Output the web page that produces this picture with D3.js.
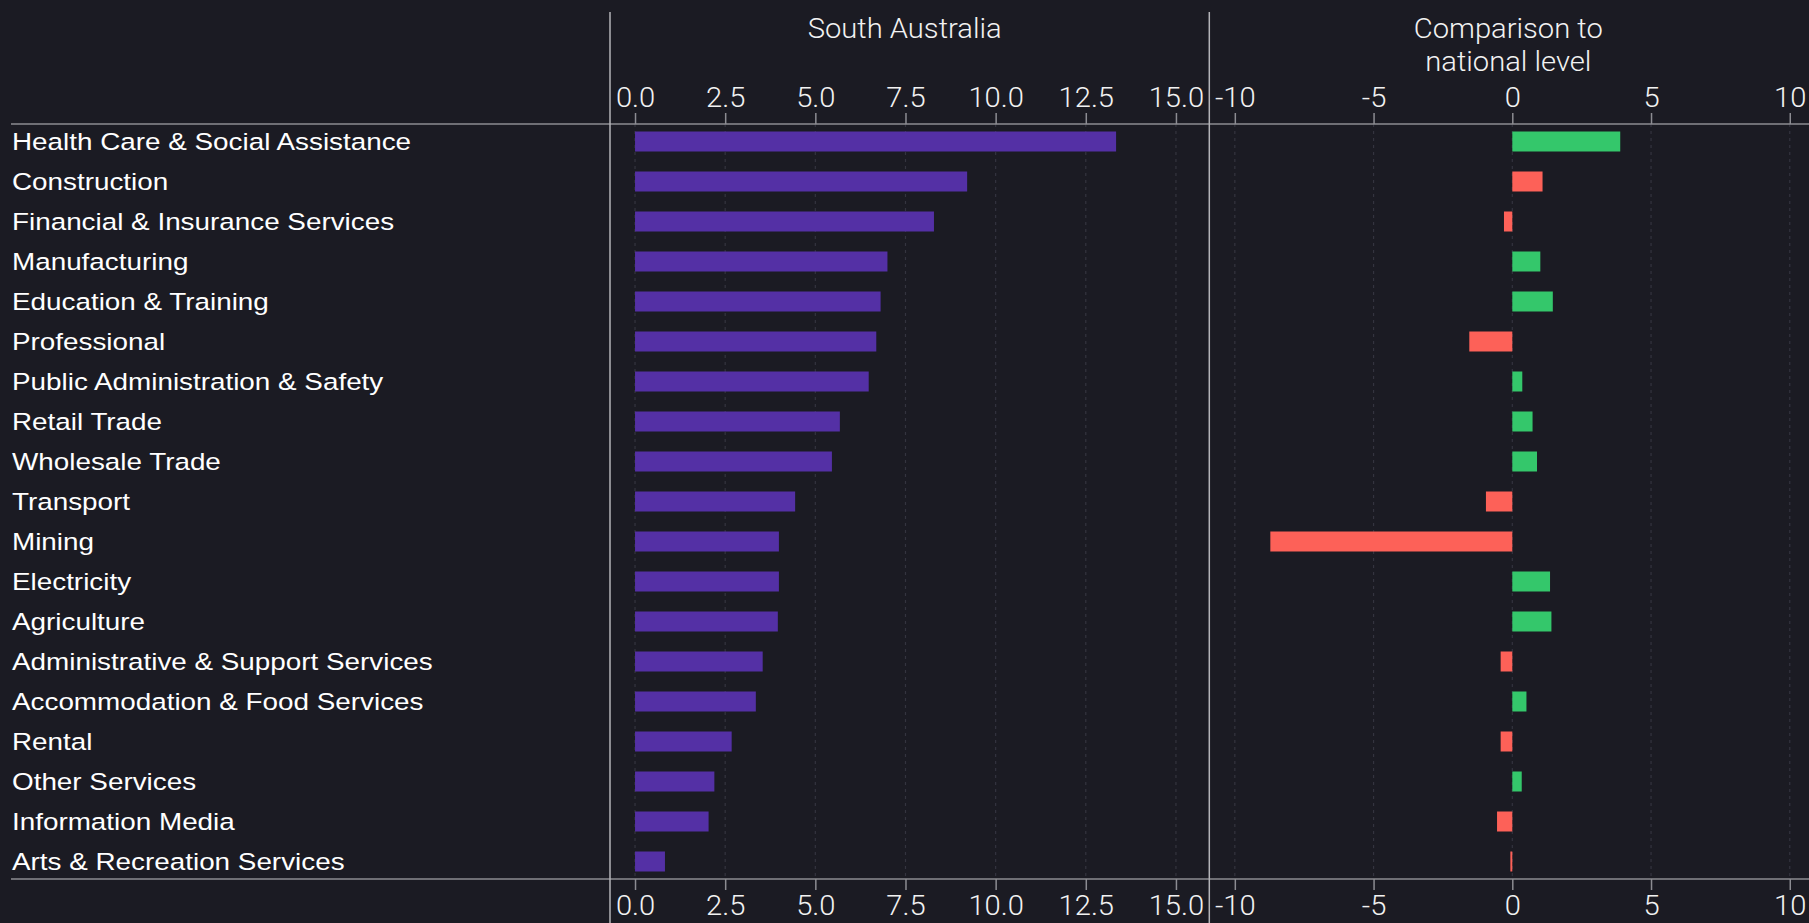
<!DOCTYPE html>
<html>
<head>
<meta charset="utf-8">
<script src="https://cdn.jsdelivr.net/npm/d3@7/dist/d3.min.js"></script>
<style>
  html, body { margin: 0; padding: 0; background: #1b1b23; overflow: hidden; }
  svg { display: block; }
</style>
</head>
<body>
<svg id="chart" width="1809" height="923"></svg>
<script>
// Industries, ordered as listed
const industries = [
  "Health Care & Social Assistance",
  "Construction",
  "Financial & Insurance Services",
  "Manufacturing",
  "Education & Training",
  "Professional",
  "Public Administration & Safety",
  "Retail Trade",
  "Wholesale Trade",
  "Transport",
  "Mining",
  "Electricity",
  "Agriculture",
  "Administrative & Support Services",
  "Accommodation & Food Services",
  "Rental",
  "Other Services",
  "Information Media",
  "Arts & Recreation Services"
];

// Share in South Australia
const stateShare = [13.34, 9.21, 8.29, 7.00, 6.81, 6.69, 6.48, 5.68, 5.46, 4.44,
                    3.99, 3.99, 3.96, 3.54, 3.35, 2.68, 2.20, 2.04, 0.83];

// Difference to the national level
const nationalDiff = [3.89, 1.09, -0.30, 1.01, 1.46, -1.55, 0.36, 0.73, 0.89, -0.95,
                      -8.72, 1.36, 1.41, -0.42, 0.51, -0.42, 0.34, -0.55, -0.07];

// Signal shown by each comparison bar
const diffSignal = ["good", "bad", "bad", "good", "good", "bad", "good", "good", "good", "bad",
                    "bad", "good", "good", "bad", "good", "bad", "good", "bad", "bad"];

const leftTicks = [0, 2.5, 5, 7.5, 10, 12.5, 15];
const rightTicks = [-10, -5, 0, 5, 10];
const leftTitle = ["South Australia"];
const rightTitle = ["Comparison to", "national level"];

const W = 1809, H = 923;
const svg = d3.select("#chart");
svg.append("rect").attr("width", W).attr("height", H).attr("fill", "#1b1b23");

const axisTop = 124, axisBottom = 879;
const panelL = [610, 1209.3];
const panelR = [1209.3, 1815.3];

const y = d3.scaleBand().domain(industries).range([121.5, 881.5])
  .paddingInner(0.5).paddingOuter(0.25);

const xL = d3.scaleLinear().domain([-0.694, 15.925]).range(panelL);
const xR = d3.scaleLinear().domain([-10.92, 10.92]).range(panelR);

const colour = d3.scaleOrdinal().domain(["good", "bad"]).range(["#34c76b", "#fd6158"]);

const tickFont = "Roboto, 'Open Sans', sans-serif";
const tickSX = 1.08;
const labelSX = 1.185;

// dashed gridlines
function grid(scale, ticks) {
  svg.append("g").selectAll("line").data(ticks).join("line")
    .attr("x1", d => scale(d)).attr("x2", d => scale(d))
    .attr("y1", axisTop).attr("y2", axisBottom)
    .attr("stroke", "#34343f").attr("stroke-width", 1.2)
    .attr("stroke-dasharray", "3,4");
}
grid(xL, leftTicks);
grid(xR, rightTicks);

// bars: state share
svg.append("g").selectAll("rect").data(industries).join("rect")
  .attr("x", (d, i) => xL(0))
  .attr("y", d => y(d))
  .attr("width", (d, i) => xL(stateShare[i]) - xL(0))
  .attr("height", y.bandwidth())
  .attr("fill", "#5430a5");

// bars: comparison to national level
svg.append("g").selectAll("rect").data(industries).join("rect")
  .attr("x", (d, i) => Math.min(xR(0), xR(nationalDiff[i])))
  .attr("y", d => y(d))
  .attr("width", (d, i) => Math.abs(xR(nationalDiff[i]) - xR(0)))
  .attr("height", y.bandwidth())
  .attr("fill", (d, i) => colour(diffSignal[i]));

// axes
function styleAxis(g) {
  g.select(".domain").remove();
  g.selectAll(".tick line").attr("stroke", "#8c8c92").attr("stroke-width", 1.5);
  g.selectAll(".tick text")
    .attr("fill", "#f2f2f2")
    .attr("font-family", tickFont)
    .attr("font-weight", 300)
    .attr("font-size", 27)
    .attr("transform", `scale(${tickSX},1)`);
}
const fmtL = d3.format(".1f");
const fmtR = d => String(d);

svg.append("g").attr("transform", `translate(0,${axisTop})`)
  .call(d3.axisTop(xL).tickValues(leftTicks).tickFormat(fmtL).tickSize(11).tickPadding(6))
  .call(styleAxis);
svg.append("g").attr("transform", `translate(0,${axisBottom})`)
  .call(d3.axisBottom(xL).tickValues(leftTicks).tickFormat(fmtL).tickSize(11).tickPadding(6))
  .call(styleAxis);
svg.append("g").attr("transform", `translate(0,${axisTop})`)
  .call(d3.axisTop(xR).tickValues(rightTicks).tickFormat(fmtR).tickSize(11).tickPadding(6))
  .call(styleAxis);
svg.append("g").attr("transform", `translate(0,${axisBottom})`)
  .call(d3.axisBottom(xR).tickValues(rightTicks).tickFormat(fmtR).tickSize(11).tickPadding(6))
  .call(styleAxis);

// frame lines
svg.append("g").selectAll("line").data([axisTop, axisBottom]).join("line")
  .attr("x1", 11).attr("x2", W).attr("y1", d => d).attr("y2", d => d)
  .attr("stroke", "#8c8c92").attr("stroke-width", 1.6);
svg.append("g").selectAll("line").data([panelL[0], panelL[1]]).join("line")
  .attr("x1", d => d).attr("x2", d => d).attr("y1", 12).attr("y2", H)
  .attr("stroke", "#b4b4b8").attr("stroke-width", 1.5);

// panel titles
function title(lines, cx) {
  svg.append("g").selectAll("text").data(lines).join("text")
    .attr("transform", (d, i) => `translate(${cx},${38 + i * 33}) scale(${tickSX},1)`)
    .attr("text-anchor", "middle")
    .attr("fill", "#f2f2f2")
    .attr("font-family", tickFont)
    .attr("font-weight", 300)
    .attr("font-size", 27)
    .text(d => d);
}
title(leftTitle, (panelL[0] + panelL[1]) / 2 - 5);
title(rightTitle, (panelR[0] + panelR[1]) / 2 - 4);

// industry labels
svg.append("g").selectAll("text").data(industries).join("text")
  .attr("transform", d => `translate(12,${y(d) + y.bandwidth() / 2 + 8.4}) scale(${labelSX},1)`)
  .attr("fill", "#ffffff")
  .attr("font-family", "'Liberation Sans', Arial, sans-serif")
  .attr("font-size", 23.5)
  .text(d => d);
</script>
</body>
</html>
